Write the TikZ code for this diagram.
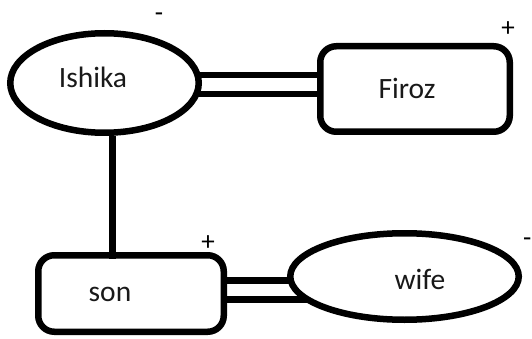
\documentclass[tikz,border=0pt]{standalone}
\usepackage{fontspec}
\setmainfont{Carlito}
\usetikzlibrary{shapes.geometric,backgrounds}
\tikzset{
  ent/.style={draw, line width=6.5pt, fill=white, inner sep=0pt},
  oval/.style={ent, ellipse},
  box/.style={ent, rectangle, rounded corners=16pt},
  lbl/.style={font=\fontsize{29.5}{31}\selectfont, inner sep=0pt, text=black!90},
  sgn/.style={font=\fontsize{27}{29}\selectfont, inner sep=0pt, text height=0.5em, text depth=0pt},
  link/.style={line width=6.5pt},
  dbl/.style={line width=6.5pt, double distance=12.5pt, double=white}
}
\begin{document}
\begin{tikzpicture}[x=1pt,y=-1pt]
\useasboundingbox (0,0) rectangle (532,339);
\node[oval, minimum width=188.5pt, minimum height=99.5pt] (Ishika) at (104.5,83) {};
\node[box, minimum width=189.5pt, minimum height=85.5pt] (Firoz) at (415,89) {};
\node[box, minimum width=185.5pt, minimum height=76.5pt] (son) at (131,293.5) {};
\node[oval, minimum width=228.5pt, minimum height=86.5pt] (wife) at (404.5,276.5) {};

\node[lbl] (tIshika) at (93,77) {Ishika};
\node[lbl] (tFiroz) at (407,88) {Firoz};
\node[lbl] (tson) at (110,294) {son};
\node[lbl] (twife) at (420,279) {wife};

\node[sgn, anchor=base] (s1) at (159,21.5) {-};
\node[sgn, anchor=base] (s2) at (508,37) {+};
\node[sgn, anchor=base] (s3) at (208,250) {+};
\node[sgn, anchor=base east] (s4) at (531.5,246) {-};

\begin{scope}[on background layer]
\draw[dbl] ([yshift=-1.5pt]Ishika.center) -- ([yshift=-1.5pt]Ishika.center -| Firoz.center);
\draw[dbl] ([yshift=3.5pt]son.center) -- ([yshift=3.5pt]son.center -| wife.center);
\end{scope}
\draw[link] ([xshift=8pt]Ishika.south) -- ([xshift=8pt,yshift=-7pt]Ishika.south |- son.north);
\end{tikzpicture}
\end{document}
